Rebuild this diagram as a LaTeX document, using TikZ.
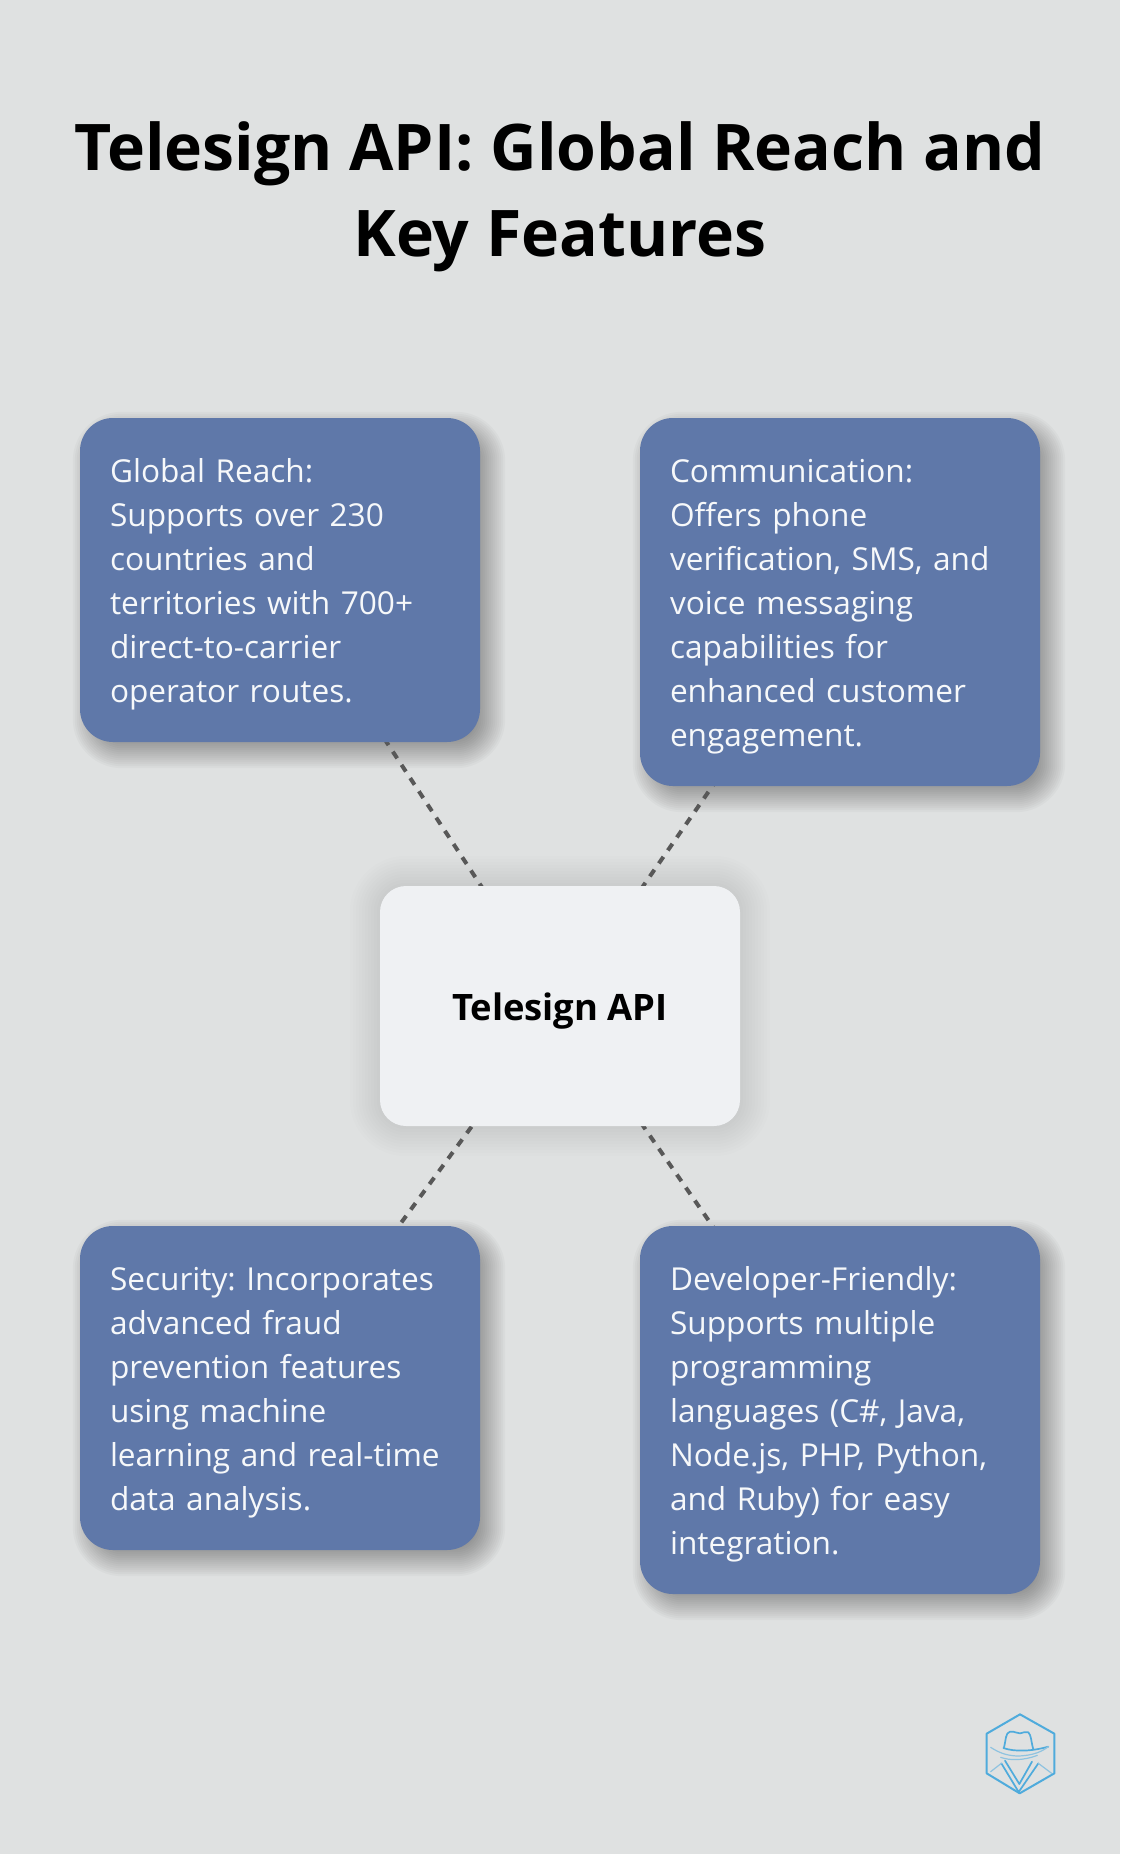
\documentclass[tikz,border=0pt]{standalone}
\usepackage{fontspec}
\setmainfont{Open Sans}
\usetikzlibrary{calc}
\pgfdeclarelayer{backdrop}
\pgfdeclarelayer{links}
\pgfsetlayers{backdrop,links,main}
\definecolor{pagebg}{HTML}{DFE1E1}
\definecolor{cardblue}{HTML}{5F78A9}
\definecolor{cardtext}{HTML}{F6F8FA}
\definecolor{hubfill}{HTML}{EFF1F3}
\definecolor{linkgrey}{HTML}{585858}
\definecolor{logoblue}{HTML}{4FABDC}
\definecolor{logosoft}{HTML}{8FC3E0}
\tikzset{
  x=1pt,y=-1pt,
  card/.style={rounded corners=33pt,fill=cardblue,text=cardtext,minimum width=400pt,text width=340pt,inner xsep=30pt,inner ysep=0pt,align=left,font=\fontsize{31.6}{44}\selectfont\frenchspacing,execute at begin node={\rule{0pt}{33.3pt}}},
  hub/.style={rounded corners=26pt,fill=hubfill,text=black,minimum width=360pt,minimum height=240pt,text height=35pt,text depth=5.8pt,font=\fontsize{36.4}{44}\selectfont\bfseries},
  titletext/.style={text=black,align=center,font=\fontsize{64.3}{86}\selectfont\bfseries},
  linkline/.style={draw=linkgrey,line width=4pt,dash pattern=on 8pt off 7.8pt},
  logoline/.style={draw=logoblue,line width=1.7pt,line join=round,line cap=round},
  logofaint/.style={draw=logosoft,line width=1.2pt,line join=round,line cap=round}
}
\newcommand{\softshadow}[6]{%
  \foreach \s in {#6} {%
    \pgfmathsetmacro{\rr}{max(#5+\s,3)}%
    \fill[black,opacity=#4,rounded corners=\rr pt]
      ($(#1.south west)+(-\s+#2,\s+#3)$) rectangle ($(#1.north east)+(\s+#2,-\s+#3)$);
  }%
}
\begin{document}
\begin{tikzpicture}
\begin{pgfonlayer}{backdrop}
  \fill[pagebg] (0,0) rectangle (1120,1854);
\end{pgfonlayer}
\path[use as bounding box] (0,0) rectangle (1120,1854);

\node[titletext] (title) at (560,197) {Telesign API: Global Reach and\\Key Features};

\node[card,minimum height=324pt] (reach) at (280,580) {Global Reach:\\Supports over 230\\countries and\\territories with 700+\\direct-to-carrier\\operator routes.};
\node[card,minimum height=368pt] (comm) at (840,602) {Communication:\\Offers phone\\verification, SMS, and\\voice messaging\\capabilities for\\enhanced customer\\engagement.};
\node[card,minimum height=324pt] (sec) at (280,1388) {Security: Incorporates\\advanced fraud\\prevention features\\using machine\\learning and real-time\\data analysis.};
\node[card,minimum height=368pt] (dev) at (840,1410) {Developer-Friendly:\\Supports multiple\\programming\\languages (C\#, Java,\\Node.js, PHP, Python,\\and Ruby) for easy\\integration.};
\node[hub] (api) at (560,1006) {Telesign API};

\begin{pgfonlayer}{links}
  \draw[linkline] (reach.center) -- (api.center);
  \draw[linkline,dash phase=6pt] (comm.center) -- (api.center);
  \draw[linkline] (sec.center) -- (api.center);
  \draw[linkline,dash phase=6pt] (dev.center) -- (api.center);
\end{pgfonlayer}

\begin{pgfonlayer}{backdrop}
  \softshadow{reach}{9}{10}{0.022}{33}{16,14,12,10,8,6,4,2,0,-2,-4,-6,-8,-10,-12}
  \softshadow{comm}{9}{10}{0.022}{33}{16,14,12,10,8,6,4,2,0,-2,-4,-6,-8,-10,-12}
  \softshadow{sec}{9}{10}{0.022}{33}{16,14,12,10,8,6,4,2,0,-2,-4,-6,-8,-10,-12}
  \softshadow{dev}{9}{10}{0.022}{33}{16,14,12,10,8,6,4,2,0,-2,-4,-6,-8,-10,-12}
  \softshadow{api}{0}{0}{0.008}{26}{30,27,24,21,18,15,12,9,6,3,0}
\end{pgfonlayer}

% logo
\begin{scope}[shift={(960,1690)},x=0.3333pt,y=-0.3333pt]
  \draw[logoline,line width=2pt] (180,73) -- (283,131) -- (283,250) -- (179,310) -- (80,250) -- (80,131) -- cycle;
  \draw[logoline] (132,172) .. controls (138,150) and (136,128) .. (150,125) .. controls (165,123) and (170,131) .. (180,130) .. controls (190,130) and (196,122) .. (205,127) .. controls (214,135) and (213,155) .. (220,178);
  \draw[logoline] (130,174) .. controls (165,186) and (215,184) .. (265,170);
  \draw[logofaint] (92,172) .. controls (120,190) and (140,196) .. (170,198) .. controls (205,198) and (240,190) .. (265,170);
  \draw[logofaint] (122,202) .. controls (150,212) and (190,212) .. (232,196);
  \draw[logoline] (135,212) -- (178,282) -- (216,215);
  \draw[logoline] (124,220) -- (176,306) -- (235,220);
  \draw[logofaint] (92,245) -- (124,220);
  \draw[logofaint] (235,220) -- (275,250);
\end{scope}
\end{tikzpicture}
\end{document}
